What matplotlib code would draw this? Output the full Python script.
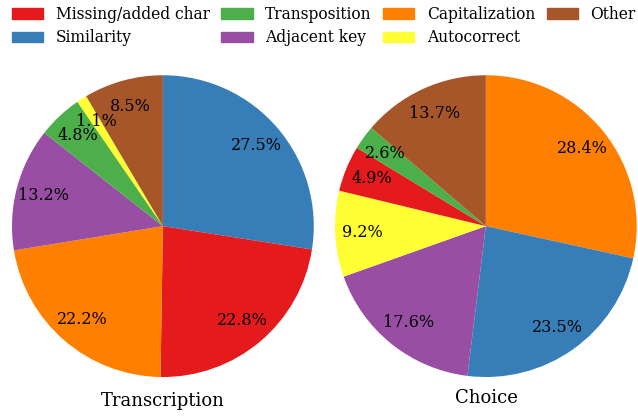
import matplotlib
matplotlib.use("Agg")
import matplotlib.pyplot as plt

plt.rcParams['font.family'] = ['DejaVu Serif']

labels = ["Missing/added char", "Similarity", "Transposition", "Adjacent key",
          "Capitalization", "Autocorrect", "Other"]
colors = ['#e41a1c', '#377eb8', '#4daf4a', '#984ea3', '#ff7f00', '#ffff33', '#a65628']

# clockwise from 12 o'clock
trans_order = ["Similarity", "Missing/added char", "Capitalization", "Adjacent key",
               "Transposition", "Autocorrect", "Other"]
trans_vals = [27.5, 22.8, 22.2, 13.2, 4.8, 1.1, 8.5]

choice_order = ["Capitalization", "Similarity", "Adjacent key", "Autocorrect",
                "Missing/added char", "Transposition", "Other"]
choice_vals = [28.4, 23.5, 17.6, 9.2, 4.9, 2.6, 13.7]

cmap = dict(zip(labels, colors))

fig = plt.figure(figsize=(6.38, 4.18), dpi=100)


def makePie(rect, order, vals, title, tx, ty):
    ax = fig.add_axes(rect)
    ax.pie(vals, colors=[cmap[k] for k in order], startangle=90, counterclock=False,
           autopct='%1.1f%%', pctdistance=0.82, textprops={'fontsize': 11.5})
    ax.set_xlim(-1.0, 1.0)
    ax.set_ylim(-1.0, 1.0)
    ax.set_aspect('equal')
    fig.text(tx, ty, title, ha='center', va='center', fontsize=13)
    return ax


makePie([0.0188, 0.098, 0.473, 0.722], trans_order, trans_vals, "Transcription", 0.255, 0.040)
makePie([0.525, 0.098, 0.473, 0.722], choice_order, choice_vals, "Choice", 0.762, 0.047)

handles = [plt.Rectangle((0, 0), 1, 1, color=c) for c in colors]
fig.legend(handles, labels, ncol=4, loc='upper left', bbox_to_anchor=(0.019, 0.985),
           borderaxespad=0, borderpad=0, frameon=False, fontsize=11.2,
           handlelength=2.0, columnspacing=0.76, handletextpad=0.8, labelspacing=0.4)

fig.savefig("out.png", dpi=100)
